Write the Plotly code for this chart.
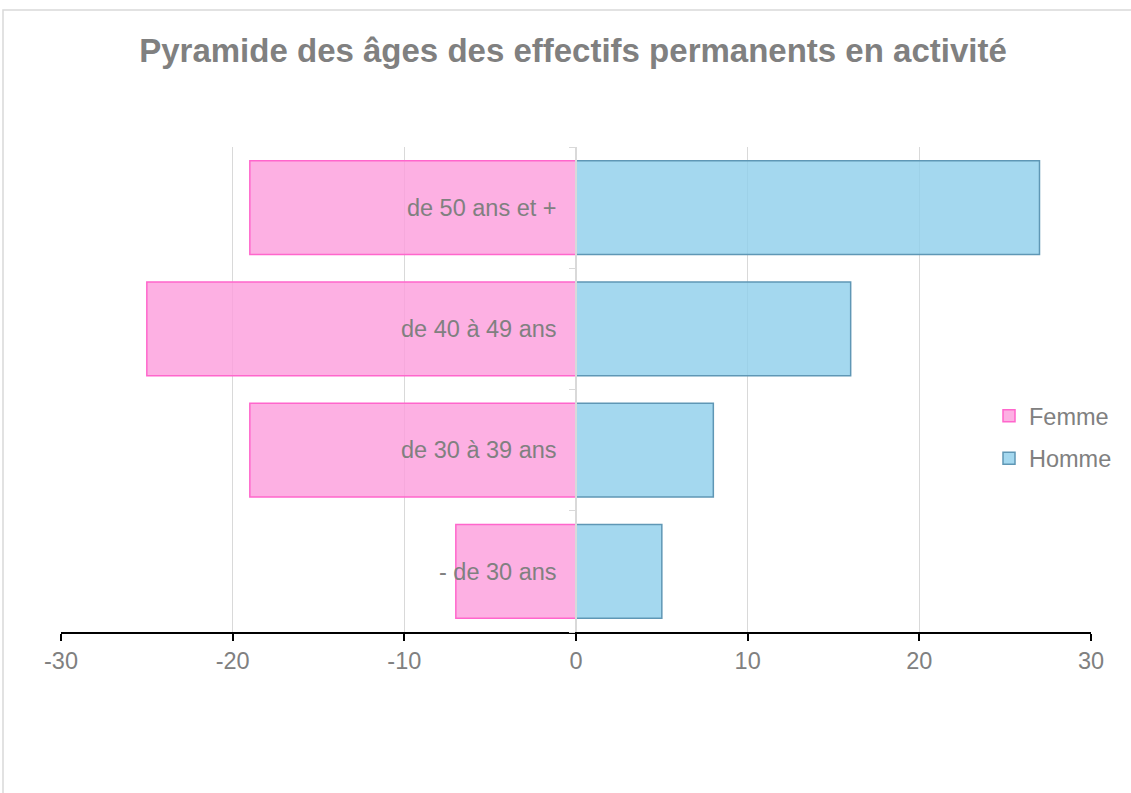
import plotly.graph_objects as go

categories = ["- de 30 ans", "de 30 à 39 ans", "de 40 à 49 ans", "de 50 ans et +"]
femme = [-7, -19, -25, -19]
homme = [5, 8, 16, 27]
x_ticks = [-30, -20, -10, 0, 10, 20, 30]
x_labels = ["-30", "-20", "-10", "0", "10", "20", "30"]

fig = go.Figure()
fig.add_trace(go.Bar(
    y=categories, x=femme, orientation="h", name="Femme",
    legendgroup="f",
    marker=dict(color="rgba(253,156,220,0.8)", line=dict(color="#FF66CC", width=1.5)),
))
fig.add_trace(go.Bar(
    y=categories, x=homme, orientation="h", name="Homme",
    legendgroup="h",
    marker=dict(color="rgba(141,206,235,0.8)", line=dict(color="#5f97b5", width=1.5)),
))

L, T, W, H = 61, 147, 1030, 485
fig.update_layout(
    width=1131, height=793,
    margin=dict(l=L, r=1131 - L - W, t=T, b=793 - T - H),
    paper_bgcolor="white", plot_bgcolor="white",
    barmode="relative", bargap=0.225,
    font=dict(family="Liberation Sans, Arial, sans-serif", color="#808080", size=24),
    title=dict(
        text="<b>Pyramide des âges des effectifs permanents en activité</b>",
        x=573 / 1131, xref="container", xanchor="center",
        y=1 - 50 / 793, yanchor="middle",
        font=dict(size=33, color="#808080"),
    ),
    legend=dict(
        x=(989 - L) / W, y=(T + H - 394) / H, xanchor="left", yanchor="top",
        bgcolor="rgba(0,0,0,0)", font=dict(size=23.5, color="#808080"),
        tracegroupgap=9, itemwidth=30, traceorder="grouped",
    ),
    xaxis=dict(
        range=[-30, 30], tickvals=x_ticks, ticktext=x_labels,
        showgrid=True, gridcolor="#d9d9d9", gridwidth=1,
        zeroline=False, showline=True, linecolor="black", linewidth=2,
        ticks="outside", ticklen=7, tickcolor="black", tickwidth=2,
        tickfont=dict(size=23.5, color="#808080"),
    ),
    yaxis=dict(
        type="category", categoryorder="array", categoryarray=categories,
        anchor="free", position=0.5, automargin=False,
        showgrid=False, zeroline=False,
        showline=True, linecolor="#d9d9d9", linewidth=1.5,
        ticks="outside", tickson="boundaries", ticklen=6, tickcolor="#d9d9d9",
        ticklabelstandoff=14,
        tickfont=dict(size=23.5, color="#808080"),
    ),
    shapes=[dict(
        type="rect", xref="paper", yref="paper",
        x0=(3 - L) / W, x1=1.2, y0=-0.6, y1=(T + H - 10) / H,
        line=dict(color="#d9d9d9", width=1.5), fillcolor="rgba(0,0,0,0)",
        layer="below",
    )],
)

fig.write_html("out.html", config={"displayModeBar": False},
               post_script="document.body.style.margin='0px';")
